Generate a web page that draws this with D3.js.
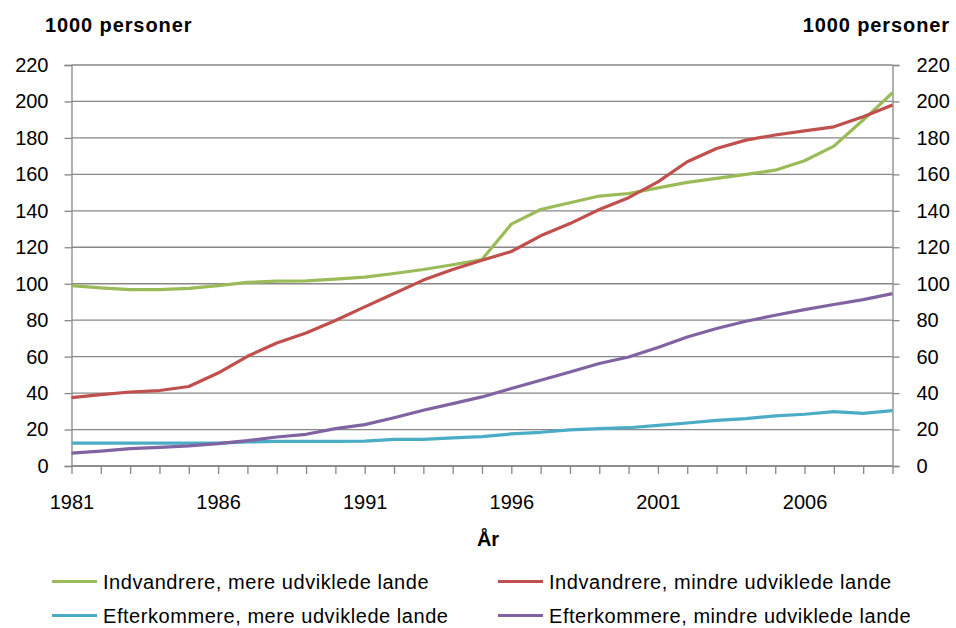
<!DOCTYPE html>
<html><head><meta charset="utf-8">
<script src="https://cdnjs.cloudflare.com/ajax/libs/d3/7.8.5/d3.min.js"></script>
<style>body{margin:0;background:#fff}svg{display:block}text{font-family:"Liberation Sans",Arial,sans-serif}</style>
</head><body><svg id="c" width="956" height="628"></svg>
<script>
const years = d3.range(1981, 2010);
const seriesNames = ["Indvandrere, mere udviklede lande","Indvandrere, mindre udviklede lande","Efterkommere, mere udviklede lande","Efterkommere, mindre udviklede lande"];
const seriesColors = ["#9BBB59","#C0504D","#4BACC6","#8064A2"];
const indMere = [99,97.7,96.8,96.8,97.5,99,100.7,101.4,101.6,102.5,103.6,105.6,107.8,110.4,113.3,132.7,140.7,144.4,148.1,149.5,152.6,155.6,157.8,160,162.3,167.5,175.5,189.8,204.8];
const indMindre = [37.5,39.2,40.6,41.4,43.6,51,60.2,67.5,73,79.8,87.3,94.6,102,107.8,112.9,117.7,126.3,133,140.7,147.2,155.9,166.9,174.2,178.8,181.6,183.9,186.1,191.6,198];
const eftMere = [12.6,12.6,12.6,12.6,12.6,12.6,13.2,13.5,13.5,13.5,13.7,14.6,14.6,15.4,16.1,17.6,18.5,19.8,20.5,21,22.3,23.6,25,26,27.5,28.4,29.8,28.9,30.4];
const eftMindre = [7.1,8.2,9.5,10.2,11,12.3,13.9,15.9,17.4,20.5,22.7,26.5,30.6,34.2,37.9,42.5,47,51.6,56.2,59.8,65,70.8,75.4,79.4,82.7,85.8,88.6,91.3,94.6];
const yTicks = d3.range(0, 221, 20);
const xTickLabels = [1981,1986,1991,1996,2001,2006];
const series = [indMere, indMindre, eftMere, eftMindre];

const svg = d3.select("#c");
const L = 71.5, R = 892.5, T = 65, B = 466;
const x = d3.scaleLinear().domain([1981, 2009]).range([L, R]);
const y = d3.scaleLinear().domain([0, 220]).range([B, T]);
const grey = "#878787";
const FF = '"Liberation Sans",Arial,sans-serif';

// gridlines
svg.append("g").selectAll("line").data(yTicks).join("line")
  .attr("x1", L).attr("x2", R).attr("y1", d => y(d)).attr("y2", d => y(d))
  .attr("stroke", grey).attr("stroke-width", 1.3);

// y axes
const ga = svg.append("g").attr("transform", `translate(${L},0)`)
  .call(d3.axisLeft(y).tickValues(yTicks).tickSize(7).tickPadding(16));
const gb = svg.append("g").attr("transform", `translate(${R},0)`)
  .call(d3.axisRight(y).tickValues(yTicks).tickSize(7).tickPadding(17));
[ga, gb].forEach(g => {
  g.select(".domain").attr("stroke", grey).attr("stroke-width", 1.3);
  g.selectAll(".tick line").attr("stroke", grey).attr("stroke-width", 1.3);
  g.selectAll("text").attr("font-size", 20).attr("fill", "#000").attr("font-family", FF);
});

// bottom axis
const gx = svg.append("g").attr("transform", `translate(0,${B})`)
  .call(d3.axisBottom(x).tickValues(years).tickSize(8).tickPadding(21)
    .tickFormat(d => xTickLabels.includes(d) ? String(d) : ""));
gx.select(".domain").attr("stroke", grey).attr("stroke-width", 1.3).attr("d", `M${L},0H${R}`);
gx.selectAll(".tick line").attr("stroke", grey).attr("stroke-width", 1.3);
gx.selectAll("text").attr("font-size", 20).attr("fill", "#000").attr("font-family", FF);

// lines
const line = d3.line().x((d, i) => x(years[i])).y(d => y(d));
series.forEach((s, k) => {
  svg.append("path").datum(s).attr("d", line).attr("fill", "none")
    .attr("stroke", seriesColors[k]).attr("stroke-width", 3.2)
    .attr("stroke-linejoin", "round");
});

// titles
svg.append("text").attr("x", 45).attr("y", 31.5).attr("font-size", 20).attr("letter-spacing", 0.9).attr("font-weight", "bold").text("1000 personer");
svg.append("text").attr("x", 950).attr("y", 31.5).attr("text-anchor", "end").attr("letter-spacing", 0.9).attr("font-size", 20).attr("font-weight", "bold").text("1000 personer");
svg.append("text").attr("x", 488).attr("y", 545.5).attr("text-anchor", "middle").attr("font-size", 20).attr("font-weight", "bold").text("År");

// legend
const legPos = [[52, 589], [498, 589], [52, 623], [498, 623]];
seriesNames.forEach((n, k) => {
  const [lx, ly] = legPos[k];
  svg.append("line").attr("x1", lx).attr("x2", lx + 45).attr("y1", ly - 7.5).attr("y2", ly - 7.5)
    .attr("stroke", seriesColors[k]).attr("stroke-width", 3.2);
  svg.append("text").attr("x", lx + 51).attr("y", ly).attr("font-size", 20).attr("letter-spacing", 0.55).text(n);
});
</script></body></html>
